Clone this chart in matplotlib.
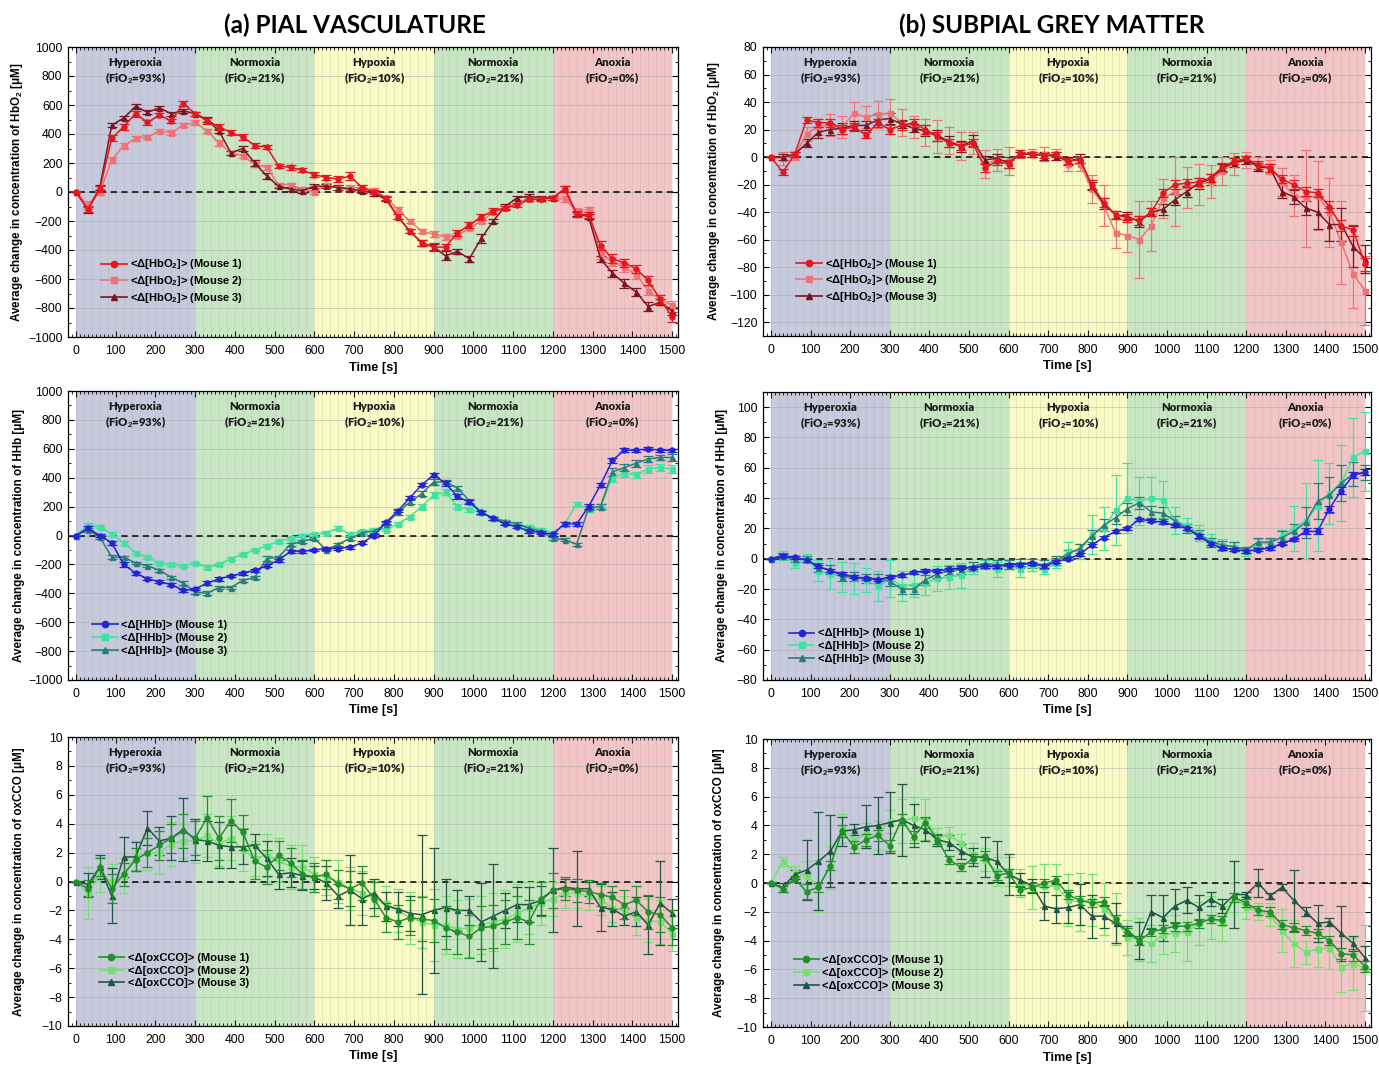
import numpy as np
import matplotlib
matplotlib.use("Agg")
import matplotlib.pyplot as plt
from matplotlib.ticker import MultipleLocator
from matplotlib.lines import Line2D
import matplotlib.transforms as mtransforms

plt.rcParams["font.family"] = ["Liberation Sans", "DejaVu Sans"]
plt.rcParams["mathtext.fontset"] = "custom"
plt.rcParams["mathtext.rm"] = "Liberation Sans:bold"
plt.rcParams["mathtext.bf"] = "Liberation Sans:bold"
plt.rcParams["mathtext.default"] = "bf"

# ---------------------------------------------------------------- data
time_s = np.arange(0, 1501, 30)

phase_names = ["Hyperoxia", "Normoxia", "Hypoxia", "Normoxia", "Anoxia"]
phase_fio2 = ["93%", "21%", "10%", "21%", "0%"]
phase_edges = [0, 300, 600, 900, 1200, 1500]
phase_colors = ["#c6cadc", "#c9e6c4", "#fafac4", "#c9e6c4", "#f2c6c6"]

# Pial vasculature, HbO2
pial_hbo2_m1 = [0, -120, 20, 370, 450, 540, 480, 530, 490, 610,
                540, 490, 450, 410, 380, 320, 310, 180, 170, 150,
                120, 100, 90, 110, 30, 0, -40, -170, -270, -350,
                -380, -380, -280, -230, -170, -130, -110, -90, -50, -50,
                -40, 20, -150, -160, -370, -460, -490, -530, -610, -740,
                -860]
pial_hbo2_m2 = [0, -90, 0, 220, 320, 370, 380, 420, 410, 460,
                480, 420, 340, 270, 250, 190, 170, 50, 50, 20,
                0, 50, 30, 30, 30, 10, -40, -120, -200, -270,
                -290, -310, -300, -250, -200, -140, -110, -70, -50, -50,
                -40, -50, -130, -120, -430, -480, -520, -570, -680, -740,
                -780]
pial_hbo2_m3 = [0, -120, 30, 460, 510, 590, 550, 580, 540, 560,
                540, 500, 420, 270, 300, 200, 110, 40, 20, 10,
                40, 40, 30, 20, 10, -10, -50, -170, -270, -350,
                -380, -440, -410, -460, -320, -200, -100, -40, -30, -40,
                -40, 20, -150, -170, -460, -560, -630, -690, -790, -760,
                -820]
pial_hbo2_e1 = [0, 20, 20, 20, 20, 20, 15, 15, 15, 20,
                15, 20, 20, 20, 20, 15, 15, 15, 15, 15,
                15, 20, 20, 30, 20, 15, 15, 15, 15, 20,
                25, 20, 20, 20, 20, 20, 15, 15, 15, 15,
                15, 20, 20, 20, 30, 30, 25, 30, 30, 30,
                35]
pial_hbo2_e2 = [0, 25, 20, 20, 15, 15, 15, 15, 15, 15,
                15, 15, 20, 15, 15, 15, 15, 15, 15, 15,
                15, 15, 15, 15, 15, 15, 15, 15, 15, 15,
                20, 20, 20, 15, 15, 15, 15, 15, 15, 15,
                15, 20, 20, 20, 30, 30, 30, 30, 30, 30,
                25]
pial_hbo2_e3 = [0, 25, 15, 15, 15, 15, 15, 15, 15, 15,
                15, 15, 15, 15, 15, 20, 20, 15, 15, 15,
                15, 15, 15, 15, 15, 15, 15, 15, 15, 20,
                20, 30, 20, 20, 30, 15, 15, 15, 15, 15,
                15, 20, 15, 15, 20, 25, 30, 30, 30, 20,
                30]

# Subpial grey matter, HbO2
grey_hbo2_m1 = [0, -11, 2, 27, 25, 25, 20, 22, 16, 25,
                20, 23, 25, 20, 15, 10, 8, 10, -8, -3,
                -5, 3, 2, 1, 2, -3, -2, -20, -33, -42,
                -44, -46, -40, -26, -20, -19, -18, -15, -7, -3,
                -1, -6, -8, -16, -20, -25, -26, -36, -50, -53,
                -78]
grey_hbo2_m2 = [0, -1, 1, 17, 22, 23, 22, 32, 29, 31,
                32, 25, 22, 18, 15, 12, 8, 10, -5, -2,
                -3, 2, 3, 2, 2, -5, -5, -23, -35, -55,
                -57, -60, -50, -30, -25, -22, -20, -18, -10, -5,
                -2, -5, -7, -18, -28, -30, -28, -40, -62, -85,
                -97]
grey_hbo2_m3 = [0, 0, 2, 10, 18, 20, 21, 23, 23, 27,
                28, 24, 21, 19, 16, 11, 8, 12, -2, -1,
                -4, 2, 2, 1, 1, -3, -1, -21, -34, -42,
                -43, -47, -40, -38, -31, -25, -19, -16, -8, -4,
                -2, -7, -8, -25, -29, -37, -40, -49, -49, -65,
                -74]
grey_hbo2_e1 = [0, 2, 2, 2, 3, 3, 3, 3, 2, 3,
                3, 3, 3, 3, 3, 3, 3, 3, 3, 3,
                3, 2, 2, 2, 2, 2, 2, 3, 3, 3,
                3, 3, 3, 3, 3, 3, 3, 3, 3, 2,
                2, 3, 3, 3, 3, 3, 3, 4, 4, 4,
                5]
grey_hbo2_e2 = [0, 5, 3, 5, 6, 8, 8, 8, 8, 10,
                10, 10, 8, 10, 12, 10, 10, 8, 10, 8,
                10, 3, 3, 5, 4, 5, 5, 10, 15, 11,
                12, 28, 18, 14, 25, 15, 15, 12, 10, 8,
                6, 5, 5, 10, 15, 35, 25, 25, 30, 25,
                25]
grey_hbo2_e3 = [0, 2, 2, 3, 4, 4, 4, 3, 3, 4,
                4, 3, 3, 4, 4, 4, 4, 4, 3, 3,
                4, 2, 2, 3, 3, 3, 3, 3, 4, 3,
                3, 4, 3, 4, 4, 4, 4, 4, 3, 3,
                3, 3, 3, 5, 5, 5, 12, 12, 12, 15,
                10]

# Pial vasculature, HHb
pial_hhb_m1 = [0, 50, 0, -50, -200, -260, -300, -320, -340, -380,
               -370, -330, -300, -280, -260, -240, -210, -170, -110, -110,
               -100, -90, -90, -80, -50, 0, 90, 170, 260, 350,
               420, 360, 270, 230, 160, 120, 80, 60, 30, 20,
               10, 80, 80, 200, 350, 520, 590, 590, 600, 590,
               590]
pial_hhb_m2 = [0, 70, 60, 10, -50, -120, -150, -190, -200, -210,
               -190, -220, -200, -160, -130, -100, -70, -40, -20, 0,
               10, 20, 50, 10, 30, 40, 40, 80, 130, 200,
               280, 300, 200, 180, 160, 120, 90, 70, 60, 40,
               20, 80, 220, 180, 200, 400, 430, 420, 460, 470,
               460]
pial_hhb_m3 = [0, 40, -10, -150, -150, -190, -210, -240, -290, -330,
               -390, -400, -360, -360, -310, -290, -160, -150, -60, -40,
               -20, -100, -60, -20, 20, 30, 80, 160, 230, 290,
               370, 370, 330, 240, 160, 120, 100, 80, 50, 30,
               -20, -30, -60, 190, 200, 440, 470, 500, 530, 540,
               540]
pial_hhb_e1 = [0, 15, 10, 15, 15, 10, 10, 10, 10, 10,
               10, 15, 15, 10, 10, 10, 10, 10, 10, 10,
               10, 10, 10, 10, 10, 10, 10, 10, 10, 10,
               15, 15, 15, 15, 10, 10, 10, 10, 10, 10,
               10, 15, 15, 15, 15, 15, 15, 10, 10, 10,
               10]
pial_hhb_e2 = [0, 15, 10, 15, 15, 10, 10, 10, 10, 10,
               10, 10, 10, 10, 10, 10, 10, 10, 10, 10,
               10, 10, 15, 10, 10, 10, 10, 10, 15, 15,
               20, 20, 15, 15, 15, 10, 10, 10, 10, 10,
               10, 15, 15, 15, 20, 30, 25, 20, 25, 25,
               25]
pial_hhb_e3 = [0, 15, 15, 15, 10, 10, 10, 10, 10, 15,
               15, 15, 10, 10, 10, 10, 15, 10, 10, 10,
               10, 10, 10, 10, 10, 10, 10, 15, 15, 15,
               20, 15, 15, 15, 10, 10, 10, 10, 10, 10,
               10, 10, 10, 15, 15, 25, 25, 25, 20, 20,
               25]

# Subpial grey matter, HHb
grey_hhb_m1 = [0, 2, 1, -1, -5, -8, -10, -12, -13, -14,
               -12, -11, -9, -8, -8, -7, -6, -6, -5, -5,
               -4, -4, -3, -5, -2, 0, 3, 9, 14, 18,
               20, 26, 25, 24, 22, 20, 15, 10, 7, 6,
               5, 6, 7, 10, 13, 18, 18, 33, 45, 55,
               57]
grey_hhb_m2 = [0, 2, -3, 0, -8, -10, -12, -13, -14, -18,
               -13, -18, -17, -16, -13, -12, -11, -6, -4, -7,
               -4, -7, -4, -7, -3, 5, 5, 16, 20, 32,
               40, 38, 40, 39, 25, 22, 17, 12, 9, 8,
               5, 10, 10, 15, 20, 25, 35, 43, 50, 67,
               71]
grey_hhb_m3 = [0, 2, 0, 0, -6, -7, -12, -12, -13, -13,
               -15, -20, -20, -14, -10, -8, -7, -5, -3, -4,
               -4, -3, -3, -4, -1, 3, 7, 15, 22, 27,
               33, 37, 31, 30, 25, 20, 16, 11, 9, 8,
               6, 11, 11, 14, 18, 24, 38, 42, 50, 56,
               57]
grey_hhb_e1 = [0, 1, 1, 1, 1, 1, 1, 1, 1, 1,
               1, 1, 1, 1, 1, 1, 1, 1, 1, 1,
               1, 1, 1, 1, 1, 1, 1, 1, 1, 1,
               1, 1, 1, 1, 1, 1, 1, 1, 1, 1,
               1, 1, 1, 1, 1, 2, 2, 2, 2, 2,
               2]
grey_hhb_e2 = [0, 3, 3, 3, 7, 10, 10, 10, 8, 10,
               12, 10, 8, 8, 8, 8, 8, 4, 3, 5,
               3, 5, 4, 3, 3, 6, 5, 13, 14, 23,
               23, 16, 14, 12, 9, 5, 5, 4, 4, 3,
               3, 3, 3, 4, 15, 25, 30, 20, 25, 26,
               26]
grey_hhb_e3 = [0, 2, 2, 2, 3, 3, 3, 3, 3, 3,
               3, 3, 3, 3, 3, 3, 3, 3, 3, 3,
               3, 3, 3, 3, 3, 3, 3, 4, 4, 4,
               4, 4, 4, 4, 3, 3, 3, 3, 3, 3,
               2, 3, 3, 4, 5, 10, 12, 12, 12, 8,
               5]

# Pial vasculature, oxCCO
pial_cco_m1 = [0, -0.5, 1, -0.5, 0.5, 1.5, 2, 2.5, 3, 3.5,
               3, 4.4, 3, 4.2, 3.4, 1.4, 1, 1.8, 1.3, 0.5,
               0.3, 0.5, -0.2, -0.5, -0.1, -1.2, -2.5, -2.8, -2.5, -2.6,
               -2.7, -3.2, -3.5, -3.8, -3.2, -3.1, -2.8, -2.5, -2.8, -1.2,
               -0.6, -0.5, -0.6, -0.7, -0.9, -1.1, -1.6, -1.3, -2.1, -2.3,
               -3.2]
pial_cco_m2 = [0, -0.8, 0.5, 0, 0.4, 1.8, 2, 2, 2.6, 2.8,
               2.8, 3.2, 2.6, 3, 2.2, 1.6, 1.8, 1.5, 1, 1,
               0.5, 0.3, 0, -0.5, -0.8, -1.2, -1.5, -2, -2.5, -2.8,
               -3, -3, -3.3, -3.2, -3, -2.8, -2.6, -2.2, -1.8, -1.5,
               -1.2, -0.8, -0.8, -1, -1.3, -1.8, -2, -2.5, -2.7, -2.8,
               -3.6]
pial_cco_m3 = [0, -0.2, 1, -1, 1.7, 1.7, 3.7, 2.8, 3, 3.6,
               2.9, 2.8, 2.5, 2.4, 2.4, 2.5, 1.6, 0.5, 0.6, 0.4,
               0.3, -0.1, -1, -0.6, -1.2, -0.8, -1.7, -1.9, -2.2, -2.3,
               -2, -1.8, -2, -2, -2.8, -2.4, -2, -1.6, -1.6, -1.3,
               -0.6, -0.4, -0.5, -0.5, -1.8, -1.9, -2.4, -2.1, -3, -1.5,
               -2.2]
pial_cco_e1 = [0, 0.6, 0.6, 1.0, 0.8, 0.8, 1.0, 1.0, 1.0, 1.2,
               1.2, 1.5, 1.5, 1.5, 1.2, 1.2, 1.2, 1.0, 1.0, 1.0,
               1.0, 1.0, 1.0, 1.2, 1.2, 1.2, 1.0, 1.2, 1.2, 1.5,
               1.5, 1.5, 1.5, 1.5, 1.5, 1.5, 1.5, 1.5, 1.5, 1.2,
               1.2, 0.8, 0.8, 0.8, 0.8, 0.8, 1.0, 1.0, 1.2, 1.2,
               1.2]
pial_cco_e2 = [0, 1.8, 1.2, 1.2, 1.2, 1.0, 1.2, 1.5, 1.5, 1.2,
               1.5, 1.5, 1.5, 1.5, 1.5, 1.2, 1.5, 1.5, 1.5, 1.5,
               1.2, 1.2, 1.5, 1.5, 1.5, 1.2, 1.2, 1.5, 1.8, 1.8,
               2.5, 2.0, 2.0, 2.0, 2.0, 2.0, 2.0, 2.0, 1.8, 1.5,
               1.2, 1.0, 1.0, 1.0, 1.0, 1.0, 1.0, 1.2, 1.5, 1.5,
               1.2]
pial_cco_e3 = [0, 0.8, 0.8, 1.9, 1.4, 1.0, 1.2, 1.0, 1.5, 2.2,
               1.4, 1.4, 1.6, 1.5, 1.2, 0.8, 1.2, 1.0, 1.0, 1.0,
               0.8, 1.2, 0.8, 2.4, 1.8, 1.0, 1.0, 1.2, 1.2, 5.5,
               4.3, 2.0, 1.4, 1.0, 2.7, 3.6, 1.2, 1.2, 1.2, 1.0,
               2.9, 0.6, 2.6, 0.5, 1.6, 1.2, 0.6, 1.0, 2.0, 2.9,
               1.0]

# Subpial grey matter, oxCCO
grey_cco_m1 = [0, -0.4, 0.3, -0.6, -0.3, 1.2, 3.6, 2.5, 3, 3.3,
               2.6, 4.4, 3.2, 4.2, 3, 1.6, 1.1, 1.7, 1.9, 0.5,
               0.7, -0.5, -0.3, 0, 0.2, -0.8, -1.2, -1.4, -1.3, -2.5,
               -3.4, -4, -3.4, -3.2, -3, -3, -2.8, -2.5, -2.6, -1,
               -1.4, -1.9, -2, -2.9, -3.1, -3.3, -3.5, -4, -4.9, -5,
               -5.8]
grey_cco_m2 = [0, 1.5, 0.8, 0.5, -0.2, 1.1, 3.8, 3, 3.4, 3.3,
               4.3, 4.3, 4.5, 4.4, 3.2, 3.3, 2.8, 2, 1.6, 0.8,
               0.8, 0, -0.3, -0.2, -0.2, -1.2, -1.3, -1.2, -1.8, -2.5,
               -3.8, -3.9, -4.2, -3.6, -3.5, -3.4, -2.8, -2.4, -2.8, -1,
               -1.7, -2, -2.2, -3.3, -4.2, -4.8, -4.6, -4.5, -5.8, -5.6,
               -5.9]
grey_cco_m3 = [0, -0.3, 0.6, 0.9, 1.5, 2.2, 3.6, 3.7, 3.9, 4,
               4.2, 4.4, 4, 3.7, 3, 2.8, 2.2, 1.8, 1.8, 1.5,
               0.6, 0.2, -0.2, -1.6, -1.8, -1.7, -1.5, -2.3, -2.3, -2.8,
               -3.3, -4, -2, -2.4, -1.6, -1.2, -1.7, -1.1, -1.6, -0.8,
               -0.8, 0, -0.9, -0.3, -1.2, -2, -2.8, -2.7, -3.5, -4.2,
               -5.2]
grey_cco_e1 = [0, 0.2, 0.2, 0.5, 0.3, 0.3, 0.4, 0.4, 0.4, 0.4,
               0.4, 0.4, 0.4, 0.4, 0.3, 0.3, 0.3, 0.3, 0.3, 0.3,
               0.3, 0.3, 0.3, 0.3, 0.3, 0.3, 0.3, 0.3, 0.3, 0.3,
               0.3, 0.3, 0.3, 0.3, 0.3, 0.3, 0.3, 0.3, 0.3, 0.3,
               0.3, 0.3, 0.3, 0.3, 0.3, 0.3, 0.3, 0.3, 0.4, 0.4,
               0.4]
grey_cco_e2 = [0, 0.3, 0.4, 1.0, 1.8, 1.5, 1.0, 0.6, 0.8, 1.0,
               0.8, 1.5, 1.5, 1.4, 0.6, 0.6, 0.6, 0.8, 0.8, 1.0,
               1.0, 1.0, 1.5, 1.5, 1.5, 1.8, 2.0, 1.8, 1.8, 1.8,
               1.2, 1.5, 1.3, 1.3, 1.3, 2.0, 1.5, 1.5, 1.2, 1.0,
               0.8, 0.6, 0.8, 1.5, 1.6, 0.8, 1.2, 1.5, 1.8, 1.8,
               3.0]
grey_cco_e3 = [0, 0.3, 0.3, 2.1, 3.4, 2.5, 1.0, 0.4, 1.5, 2.0,
               2.1, 2.5, 1.5, 0.8, 0.4, 0.5, 0.5, 0.6, 1.4, 1.4,
               1.4, 0.5, 0.5, 1.0, 1.0, 1.1, 1.4, 1.5, 0.8, 1.4,
               0.3, 1.3, 1.2, 1.6, 1.2, 0.9, 0.9, 0.5, 0.5, 2.3,
               0.2, 1.0, 0.2, 0.2, 2.1, 0.3, 1.3, 0.3, 1.9, 0.5,
               0.8]

mouse_labels = ["Mouse 1", "Mouse 2", "Mouse 3"]
mouse_markers = ["o", "s", "^"]

hbo2_colors = ["#e5161e", "#f07276", "#7c1422"]
hhb_colors = ["#2424d6", "#40e2a2", "#2a7e7a"]
cco_colors = ["#22902a", "#74e070", "#1f5644"]

# ---------------------------------------------------------------- layout
W, H = 1379, 1068
fig = plt.figure(figsize=(W / 100, H / 100), dpi=100)


def px_axes(left, top, right, bottom):
    return fig.add_axes([left / W, 1 - bottom / H, (right - left) / W, (bottom - top) / H])


panels = [
    dict(box=(68, 47, 678, 337), ylim=(-1000, 1000), major=200, minor=100,
         species="HbO$_2$", series=(pial_hbo2_m1, pial_hbo2_m2, pial_hbo2_m3),
         errors=(pial_hbo2_e1, pial_hbo2_e2, pial_hbo2_e3), colors=hbo2_colors,
         legend=(0.047, 0.095), ylab_x=-0.07),
    dict(box=(763, 47, 1371, 336), ylim=(-130, 80), major=20, minor=10,
         species="HbO$_2$", series=(grey_hbo2_m1, grey_hbo2_m2, grey_hbo2_m3),
         errors=(grey_hbo2_e1, grey_hbo2_e2, grey_hbo2_e3), colors=hbo2_colors,
         legend=(0.047, 0.095), ylab_x=-0.068),
    dict(box=(68, 391, 678, 680), ylim=(-1000, 1000), major=200, minor=100,
         species="HHb", series=(pial_hhb_m1, pial_hhb_m2, pial_hhb_m3),
         errors=(pial_hhb_e1, pial_hhb_e2, pial_hhb_e3), colors=hhb_colors,
         legend=(0.032, 0.068), ylab_x=-0.07),
    dict(box=(763, 392, 1371, 680), ylim=(-80, 110), major=20, minor=10,
         species="HHb", series=(grey_hhb_m1, grey_hhb_m2, grey_hhb_m3),
         errors=(grey_hhb_e1, grey_hhb_e2, grey_hhb_e3), colors=hhb_colors,
         legend=(0.035, 0.04), ylab_x=-0.058),
    dict(box=(68, 737, 678, 1026), ylim=(-10, 10), major=2, minor=1,
         species="oxCCO", series=(pial_cco_m1, pial_cco_m2, pial_cco_m3),
         errors=(pial_cco_e1, pial_cco_e2, pial_cco_e3), colors=cco_colors,
         legend=(0.043, 0.115), ylab_x=-0.07),
    dict(box=(763, 739, 1371, 1027), ylim=(-10, 10), major=2, minor=1,
         species="oxCCO", series=(grey_cco_m1, grey_cco_m2, grey_cco_m3),
         errors=(grey_cco_e1, grey_cco_e2, grey_cco_e3), colors=cco_colors,
         legend=(0.043, 0.11), ylab_x=-0.062),
]

phase_font = ["Lato", "DejaVu Sans"]

for p in panels:
    ax = px_axes(*p["box"])
    ax.set_xlim(-20, 1515)
    ax.set_ylim(*p["ylim"])
    ax.set_axisbelow(True)

    # experimental phases as shaded bands with labels
    trans = mtransforms.blended_transform_factory(ax.transData, ax.transAxes)
    for i, name in enumerate(phase_names):
        x0, x1 = phase_edges[i], phase_edges[i + 1]
        ax.axvspan(x0, x1, color=phase_colors[i], lw=0, zorder=0)
        xc = 0.5 * (x0 + x1)
        ax.text(xc, 0.945, name, transform=trans, ha="center", va="center",
                fontsize=8.2, fontweight="heavy", family=phase_font,
                color="#1a1a1a")
        ax.text(xc, 0.893, "(FiO$_2$=" + phase_fio2[i] + ")",
                transform=trans, ha="center", va="center", fontsize=8.2,
                fontweight="heavy", family=phase_font, color="#1a1a1a")

    # light grid
    for xg in np.arange(0, 1501, 20):
        ax.axvline(xg, color="#9a9a9a", lw=0.45, alpha=0.3, zorder=0.6)
    ax.yaxis.grid(True, which="major", color="#a0a0a0", lw=0.5, alpha=0.6)

    ax.axhline(0, color="black", lw=1.1, ls=(0, (4, 3)), zorder=1.5)

    for k in (1, 2, 0):
        vals = np.asarray(p["series"][k], dtype=float)
        errs = np.asarray(p["errors"][k], dtype=float)
        col = p["colors"][k]
        ax.errorbar(time_s, vals, yerr=errs, color=col, lw=1.1,
                    marker=mouse_markers[k], ms=3.6, mec=col, mfc=col,
                    elinewidth=0.9, capsize=3.4, capthick=0.9, zorder=3 + (k == 0))
    handles = []
    for k in range(3):
        col = p["colors"][k]
        handles.append(Line2D([], [], color=col, lw=1.2, marker=mouse_markers[k],
                              ms=4.5, mfc=col, mec=col,
                              label="<Δ[" + p["species"] + "]> (" + mouse_labels[k] + ")"))
    leg = ax.legend(handles=handles, loc="lower left", bbox_to_anchor=p["legend"],
                    prop={"weight": "bold", "size": 8}, frameon=True,
                    fancybox=False, framealpha=0, edgecolor="#555555",
                    borderpad=0.4, labelspacing=0.25, handlelength=2.3,
                    handletextpad=0.3, borderaxespad=0)
    leg.get_frame().set_linewidth(0.8)

    # axes, ticks, labels
    ax.xaxis.set_major_locator(MultipleLocator(100))
    ax.xaxis.set_minor_locator(MultipleLocator(10))
    ax.yaxis.set_major_locator(MultipleLocator(p["major"]))
    ax.yaxis.set_minor_locator(MultipleLocator(p["minor"]))
    ax.tick_params(which="both", direction="in", top=True, right=True,
                   labelsize=8.8)
    ax.tick_params(axis="x", pad=6)
    ax.tick_params(axis="y", pad=4)
    ax.tick_params(which="major", length=4, width=0.8)
    ax.tick_params(which="minor", length=2.2, width=0.6)
    for s in ax.spines.values():
        s.set_linewidth(0.9)
    ax.set_xlabel("Time [s]", fontsize=9.2, fontweight="bold", labelpad=3)
    ax.set_ylabel("Average change in concentration of " + p["species"] + " [μM]",
                  fontsize=8.4, fontweight="bold")
    ax.yaxis.set_label_coords(p["ylab_x"], 0.5)

fig.text(355 / W, 1 - 25 / H, "(a) PIAL VASCULATURE", ha="center", va="center",
         fontsize=17.5, fontweight="bold", family=["Lato", "DejaVu Sans"])
fig.text(1052 / W, 1 - 25 / H, "(b) SUBPIAL GREY MATTER", ha="center", va="center",
         fontsize=17.5, fontweight="bold", family=["Lato", "DejaVu Sans"])

fig.savefig("out.png", dpi=100)
